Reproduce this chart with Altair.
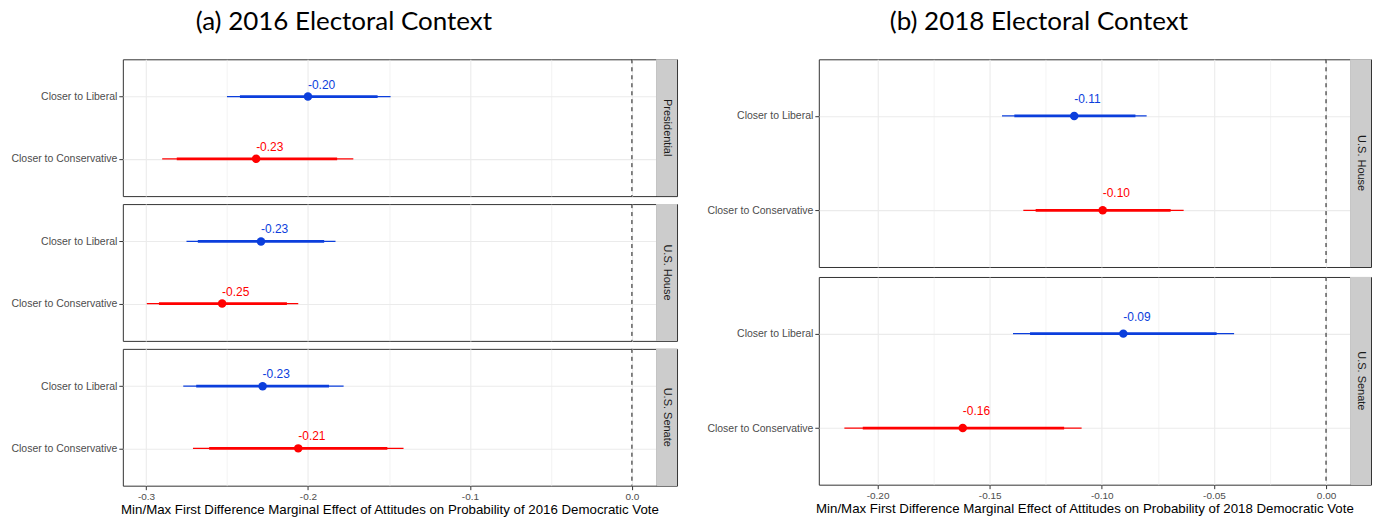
import altair as alt
import pandas as pd

# ---------------- data ----------------
groups = ["Closer to Liberal", "Closer to Conservative"]

offices_2016 = ["Presidential", "U.S. House", "U.S. Senate"]
est_2016 = [-0.200, -0.232, -0.229, -0.253, -0.228, -0.206]
lo95_2016 = [-0.250, -0.290, -0.275, -0.2995, -0.277, -0.271]
hi95_2016 = [-0.149, -0.172, -0.183, -0.206, -0.178, -0.141]
lo90_2016 = [-0.242, -0.281, -0.268, -0.292, -0.269, -0.261]
hi90_2016 = [-0.157, -0.182, -0.190, -0.213, -0.187, -0.151]

offices_2018 = ["U.S. House", "U.S. Senate"]
est_2018 = [-0.1123, -0.0996, -0.0904, -0.162]
lo95_2018 = [-0.1445, -0.135, -0.1396, -0.2148]
hi95_2018 = [-0.080, -0.0635, -0.041, -0.109]
lo90_2018 = [-0.139, -0.1295, -0.132, -0.2066]
hi90_2018 = [-0.085, -0.0693, -0.0488, -0.1168]

ticks_2016 = [-0.30, -0.25, -0.20, -0.15, -0.10, -0.05, 0.0]
ticks_2018 = [-0.200, -0.175, -0.150, -0.125, -0.100, -0.075, -0.050, -0.025, 0.0]

BLUE = "#0B3EDC"
RED = "#FF0000"
FONT = "Liberation Sans"


def make_df(offices, est, lo95, hi95, lo90, hi90):
    rows = []
    i = 0
    for o in offices:
        for g in groups:
            rows.append(dict(office=o, group=g, est=est[i], lo95=lo95[i], hi95=hi95[i],
                             lo90=lo90[i], hi90=hi90[i], label=f"{est[i]:.2f}"))
            i += 1
    return pd.DataFrame(rows)


df16 = make_df(offices_2016, est_2016, lo95_2016, hi95_2016, lo90_2016, hi90_2016)
df18 = make_df(offices_2018, est_2018, lo95_2018, hi95_2018, lo90_2018, hi90_2018)


def panel(df, office, domain, ticks, mult, fmt, width, height, dy, bottom, xtitle):
    d = df[df.office == office]
    minor_test = f"abs(datum.value*{mult} - round(datum.value*{mult})) > 0.001"
    common = dict(
        values=ticks,
        grid=True,
        gridColor="#EBEBEB",
        gridWidth={"condition": {"test": minor_test, "value": 0.6}, "value": 1.1},
        domain=False,
        labelFlush=False,
    )
    if bottom:
        xaxis = alt.Axis(
            title=xtitle,
            labelExpr=f"{minor_test} ? '' : replace(format(datum.value, '{fmt}'), '\u2212', '-')",
            tickOpacity={"condition": {"test": minor_test, "value": 0}, "value": 1},
            tickColor="#333333",
            tickSize=4,
            labelFontSize=10,
            labelColor="#4D4D4D",
            labelPadding=2,
            titleFontSize=13.3,
            titleFontWeight="normal",
            titleColor="#000000",
            titlePadding=1,
            **common,
        )
    else:
        xaxis = alt.Axis(title=None, labels=False, ticks=False, minExtent=0, maxExtent=0, **common)

    xs = alt.Scale(domain=domain, nice=False, zero=False)
    x = alt.X("est:Q", scale=xs, axis=xaxis)
    y = alt.Y("group:N", sort=groups,
              scale=alt.Scale(type="point", padding=0.6, domain=groups),
              axis=alt.Axis(title=None, grid=True, gridColor="#EBEBEB", gridWidth=1.1,
                            domain=False, tickColor="#333333", tickSize=4,
                            labelFontSize=10.5, labelColor="#4D4D4D", labelPadding=2))
    color = alt.Color("group:N", scale=alt.Scale(domain=groups, range=[BLUE, RED]), legend=None)

    base = alt.Chart(d)
    outer = base.mark_rule(strokeWidth=1.3).encode(
        x=alt.X("lo95:Q", scale=xs, axis=xaxis), x2="hi95:Q", y=y, color=color)
    zero = base.mark_rule(color="#444444", strokeDash=[4, 4], strokeWidth=0.8).encode(
        x=alt.datum(0), y=alt.value(0), y2=alt.value(height))
    inner = base.mark_rule(strokeWidth=2.8).encode(
        x=alt.X("lo90:Q", scale=xs, axis=xaxis), x2="hi90:Q", y=y, color=color)
    pts = base.mark_point(filled=True, size=72, opacity=1).encode(x=x, y=y, color=color)
    txt = base.mark_text(align="left", baseline="middle", dy=-dy, fontSize=12, font=FONT).encode(
        x=x, y=y, text="label:N", color=color)
    layer = alt.layer(outer, zero, inner, pts, txt).properties(width=width, height=height)

    strip_df = pd.DataFrame({"office": [office]})
    sbase = alt.Chart(strip_df)
    srect = sbase.mark_rect(fill="#CCCCCC").encode(
        x=alt.value(0), x2=alt.value(21), y=alt.value(0), y2=alt.value(height))
    stext = sbase.mark_text(angle=90, fontSize=11, font=FONT, color="#1A1A1A",
                            align="center", baseline="middle").encode(
        x=alt.value(10.5), y=alt.value(height / 2), text="office:N")
    strip = alt.layer(srect, stext).properties(width=21, height=height)
    return alt.hconcat(layer, strip, spacing=0, bounds="flush")


def group(df, offices, domain, ticks, mult, fmt, width, height, dy, spacing, xtitle, title):
    rows = [panel(df, o, domain, ticks, mult, fmt, width, height, dy, i == len(offices) - 1, xtitle)
            for i, o in enumerate(offices)]
    return alt.vconcat(*rows, spacing=spacing).properties(
        title=alt.TitleParams(title, fontSize=26, font="Lato", fontWeight="normal",
                              anchor="middle", offset=23, color="#000000"))


left = group(df16, offices_2016, [-0.3143, 0.0149], ticks_2016, 10, ".1f", 534, 137, 12, 6,
             "Min/Max First Difference Marginal Effect of Attitudes on Probability of 2016 Democratic Vote",
             "(a) 2016 Electoral Context")
right = group(df18, offices_2018, [-0.2262, 0.0107], ticks_2018, 20, ".2f", 532, 208, 17, 8,
              "Min/Max First Difference Marginal Effect of Attitudes on Probability of 2018 Democratic Vote",
              "(b) 2018 Electoral Context")

chart = alt.hconcat(left, right, spacing=28).properties(
    padding={"left": 2, "top": 1, "right": 0, "bottom": 0}
).configure(font=FONT).configure_view(stroke="#333333", strokeWidth=1)

chart.save("out.html", embed_options={"renderer": "svg", "actions": False})
